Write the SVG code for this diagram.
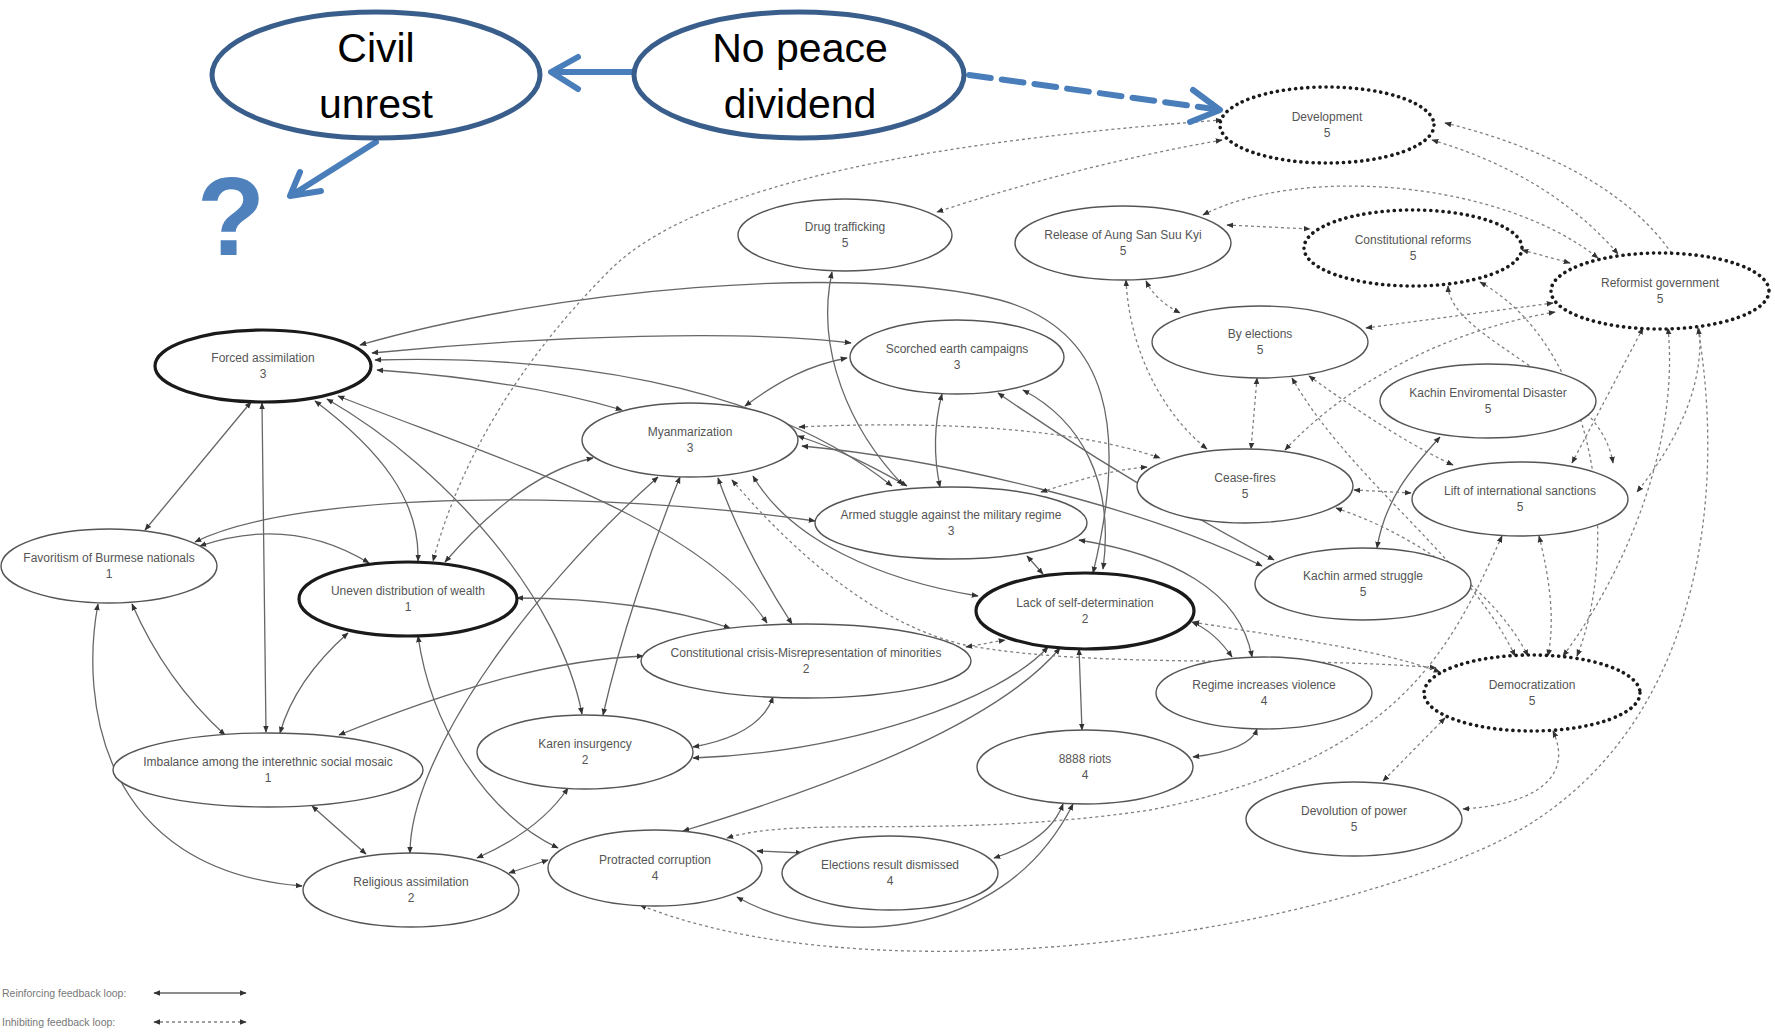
<svg xmlns="http://www.w3.org/2000/svg" width="1775" height="1034" viewBox="0 0 1775 1034">
<defs>
<marker id="ah" viewBox="0 0 10 10" refX="9" refY="5" markerWidth="7" markerHeight="7" markerUnits="userSpaceOnUse" orient="auto-start-reverse"><path d="M0,1 L10,5 L0,9 z" fill="#333"/></marker>
<style>
.e{fill:none;stroke:#666;stroke-width:1.3;marker-start:url(#ah);marker-end:url(#ah)}
.d{fill:none;stroke:#808080;stroke-width:1.3;stroke-dasharray:3 3;marker-start:url(#ah);marker-end:url(#ah)}
.n ellipse{fill:#fff;stroke:#555;stroke-width:1.4}
.t ellipse{fill:#fff;stroke:#1a1a1a;stroke-width:3.2}
.p ellipse{fill:#fff;stroke:#1a1a1a;stroke-width:3.6;stroke-dasharray:0.1 6;stroke-linecap:round}
text.l{font-family:"Liberation Sans",Arial,sans-serif;font-size:12px;fill:#555;text-anchor:middle}
.b ellipse{fill:#fff;stroke:#3a5e8c;stroke-width:5}
text.big{font-family:"Liberation Sans",Arial,sans-serif;font-size:41px;fill:#000;text-anchor:middle}
.bl{fill:none;stroke:#4a7ebb;stroke-width:6;stroke-linecap:round;stroke-linejoin:round}
text.lg{font-family:"Liberation Sans",Arial,sans-serif;font-size:10.5px;fill:#777}
</style>
</defs>
<rect width="1775" height="1034" fill="#fff"/>
<g id="connectors">
<path class="e" d="M251,402 L145,530"/>
<path class="e" d="M262,403 L266,732"/>
<path class="e" d="M315,401 C380,450 420,500 418,561"/>
<path class="e" d="M327,399 C450,470 560,600 582,714"/>
<path class="e" d="M338,396 C500,460 700,520 767,623"/>
<path class="e" d="M377,370 Q520,380 622,410"/>
<path class="e" d="M375,360 C550,355 760,380 892,486"/>
<path class="e" d="M372,353 C550,335 750,330 851,343"/>
<path class="e" d="M360,345 C550,290 850,262 1000,300 C1110,330 1128,430 1093,573"/>
<path class="e" d="M195,542 C300,490 600,490 815,521"/>
<path class="e" d="M200,546 Q290,515 369,563"/>
<path class="e" d="M98,604 C80,700 100,870 302,886"/>
<path class="e" d="M132,604 Q165,680 225,735"/>
<path class="e" d="M348,633 Q295,680 280,733"/>
<path class="e" d="M418,636 C430,720 480,810 558,848"/>
<path class="e" d="M517,598 Q640,598 730,628"/>
<path class="e" d="M445,562 C490,510 540,470 593,458"/>
<path class="e" d="M339,735 C450,690 550,660 643,656"/>
<path class="e" d="M312,806 L366,854"/>
<path class="e" d="M410,853 C410,760 520,600 658,477"/>
<path class="e" d="M477,858 Q540,830 568,788"/>
<path class="e" d="M509,873 Q530,866 548,860"/>
<path class="e" d="M603,715 C620,640 650,550 680,477"/>
<path class="e" d="M693,747 Q760,735 773,697"/>
<path class="e" d="M693,758 C850,752 1000,700 1048,647"/>
<path class="e" d="M683,831 C850,780 1000,720 1060,648"/>
<path class="e" d="M757,851 L802,853"/>
<path class="e" d="M737,897 C820,945 1000,950 1073,804"/>
<path class="e" d="M994,858 Q1050,840 1063,804"/>
<path class="e" d="M1082,730 L1079,649"/>
<path class="e" d="M1193,757 Q1250,750 1257,729"/>
<path class="e" d="M1192,622 Q1215,632 1232,657"/>
<path class="e" d="M1079,540 C1170,555 1240,590 1252,657"/>
<path class="e" d="M745,406 C780,380 810,365 847,358"/>
<path class="e" d="M718,478 C740,540 770,590 792,624"/>
<path class="e" d="M753,476 C790,540 880,580 978,596"/>
<path class="e" d="M802,446 C950,460 1150,510 1262,566"/>
<path class="e" d="M798,436 C840,450 870,465 907,486"/>
<path class="e" d="M942,394 Q930,440 940,487"/>
<path class="e" d="M1023,390 C1080,420 1115,480 1103,569"/>
<path class="e" d="M998,393 C1080,450 1180,510 1274,560"/>
<path class="e" d="M832,272 C815,350 850,430 903,485"/>
<path class="e" d="M1027,556 L1043,574"/>
<path class="e" d="M1440,437 C1410,470 1385,500 1377,548"/>
<path class="d" d="M1222,120 C950,140 700,180 610,270 C520,360 460,460 433,561"/>
<path class="d" d="M1222,140 Q1080,165 937,212"/>
<path class="d" d="M1445,123 C1640,170 1790,300 1637,492"/>
<path class="d" d="M1432,140 Q1550,175 1618,254"/>
<path class="d" d="M1203,215 C1300,165 1500,180 1598,258"/>
<path class="d" d="M1227,225 L1310,229"/>
<path class="d" d="M1146,281 Q1155,300 1180,313"/>
<path class="d" d="M1126,280 C1130,360 1170,420 1207,449"/>
<path class="d" d="M1522,250 L1570,263"/>
<path class="d" d="M1366,328 L1553,303"/>
<path class="d" d="M1285,450 C1350,380 1450,330 1555,312"/>
<path class="d" d="M1257,378 L1251,449"/>
<path class="d" d="M1292,378 C1350,480 1470,560 1515,656"/>
<path class="d" d="M1309,376 C1370,420 1420,450 1453,465"/>
<path class="d" d="M1354,490 L1411,493"/>
<path class="d" d="M1336,508 C1430,540 1500,600 1528,656"/>
<path class="d" d="M1448,286 C1450,340 1600,380 1613,463"/>
<path class="d" d="M1480,282 C1600,350 1620,550 1577,656"/>
<path class="d" d="M1643,328 L1572,463"/>
<path class="d" d="M1668,328 C1680,450 1620,580 1563,656"/>
<path class="d" d="M1698,328 C1730,520 1690,760 1480,850 C1250,950 850,990 640,905"/>
<path class="d" d="M1539,536 C1550,580 1555,620 1548,656"/>
<path class="d" d="M1502,536 C1450,650 1400,760 1150,810 C950,840 800,815 727,838"/>
<path class="d" d="M1553,731 C1575,780 1530,805 1463,809"/>
<path class="d" d="M1445,718 L1383,781"/>
<path class="d" d="M732,480 C800,560 880,625 965,645 C1100,670 1300,655 1436,668"/>
<path class="d" d="M1193,622 C1300,640 1380,650 1440,672"/>
<path class="d" d="M966,647 L1005,640"/>
<path class="d" d="M799,427 C950,420 1080,430 1160,458"/>
<path class="d" d="M1041,492 C1080,480 1110,470 1147,467"/>
</g>
<g id="development" class="p"><ellipse cx="1327" cy="125" rx="107" ry="38"/><text class="l" x="1327" y="121">Development</text><text class="l" x="1327" y="137">5</text></g>
<g id="drug-trafficking" class="n"><ellipse cx="845" cy="235" rx="107" ry="36"/><text class="l" x="845" y="231">Drug trafficking</text><text class="l" x="845" y="247">5</text></g>
<g id="release-aung-san-suu-kyi" class="n"><ellipse cx="1123" cy="243" rx="108" ry="37"/><text class="l" x="1123" y="239">Release of Aung San Suu Kyi</text><text class="l" x="1123" y="255">5</text></g>
<g id="constitutional-reforms" class="p"><ellipse cx="1413" cy="248" rx="109" ry="38"/><text class="l" x="1413" y="244">Constitutional reforms</text><text class="l" x="1413" y="260">5</text></g>
<g id="reformist-government" class="p"><ellipse cx="1660" cy="291" rx="109" ry="38"/><text class="l" x="1660" y="287">Reformist government</text><text class="l" x="1660" y="303">5</text></g>
<g id="by-elections" class="n"><ellipse cx="1260" cy="342" rx="108" ry="36"/><text class="l" x="1260" y="338">By elections</text><text class="l" x="1260" y="354">5</text></g>
<g id="forced-assimilation" class="t"><ellipse cx="263" cy="366" rx="108" ry="36"/><text class="l" x="263" y="362">Forced assimilation</text><text class="l" x="263" y="378">3</text></g>
<g id="scorched-earth" class="n"><ellipse cx="957" cy="357" rx="107" ry="37"/><text class="l" x="957" y="353">Scorched earth campaigns</text><text class="l" x="957" y="369">3</text></g>
<g id="kachin-env" class="n"><ellipse cx="1488" cy="401" rx="108" ry="37"/><text class="l" x="1488" y="397">Kachin Enviromental Disaster</text><text class="l" x="1488" y="413">5</text></g>
<g id="myanmarization" class="n"><ellipse cx="690" cy="440" rx="108" ry="37"/><text class="l" x="690" y="436">Myanmarization</text><text class="l" x="690" y="452">3</text></g>
<g id="cease-fires" class="n"><ellipse cx="1245" cy="486" rx="108" ry="37"/><text class="l" x="1245" y="482">Cease-fires</text><text class="l" x="1245" y="498">5</text></g>
<g id="lift-sanctions" class="n"><ellipse cx="1520" cy="499" rx="108" ry="37"/><text class="l" x="1520" y="495">Lift of international sanctions</text><text class="l" x="1520" y="511">5</text></g>
<g id="armed-struggle" class="n"><ellipse cx="951" cy="523" rx="136" ry="36"/><text class="l" x="951" y="519">Armed stuggle against the military regime</text><text class="l" x="951" y="535">3</text></g>
<g id="favoritism" class="n"><ellipse cx="109" cy="566" rx="108" ry="37"/><text class="l" x="109" y="562">Favoritism of Burmese nationals</text><text class="l" x="109" y="578">1</text></g>
<g id="uneven-wealth" class="t"><ellipse cx="408" cy="599" rx="109" ry="37"/><text class="l" x="408" y="595">Uneven distribution of wealth</text><text class="l" x="408" y="611">1</text></g>
<g id="kachin-armed" class="n"><ellipse cx="1363" cy="584" rx="108" ry="36"/><text class="l" x="1363" y="580">Kachin armed struggle</text><text class="l" x="1363" y="596">5</text></g>
<g id="lack-self-determination" class="t"><ellipse cx="1085" cy="611" rx="109" ry="38"/><text class="l" x="1085" y="607">Lack of self-determination</text><text class="l" x="1085" y="623">2</text></g>
<g id="constitutional-crisis" class="n"><ellipse cx="806" cy="661" rx="165" ry="37"/><text class="l" x="806" y="657">Constitutional crisis-Misrepresentation of minorities</text><text class="l" x="806" y="673">2</text></g>
<g id="regime-violence" class="n"><ellipse cx="1264" cy="693" rx="108" ry="36"/><text class="l" x="1264" y="689">Regime increases violence</text><text class="l" x="1264" y="705">4</text></g>
<g id="democratization" class="p"><ellipse cx="1532" cy="693" rx="108" ry="38"/><text class="l" x="1532" y="689">Democratization</text><text class="l" x="1532" y="705">5</text></g>
<g id="karen-insurgency" class="n"><ellipse cx="585" cy="752" rx="108" ry="37"/><text class="l" x="585" y="748">Karen insurgency</text><text class="l" x="585" y="764">2</text></g>
<g id="imbalance" class="n"><ellipse cx="268" cy="770" rx="155" ry="37"/><text class="l" x="268" y="766">Imbalance among the interethnic social mosaic</text><text class="l" x="268" y="782">1</text></g>
<g id="riots-8888" class="n"><ellipse cx="1085" cy="767" rx="108" ry="37"/><text class="l" x="1085" y="763">8888 riots</text><text class="l" x="1085" y="779">4</text></g>
<g id="devolution" class="n"><ellipse cx="1354" cy="819" rx="108" ry="37"/><text class="l" x="1354" y="815">Devolution of power</text><text class="l" x="1354" y="831">5</text></g>
<g id="religious-assimilation" class="n"><ellipse cx="411" cy="890" rx="108" ry="37"/><text class="l" x="411" y="886">Religious assimilation</text><text class="l" x="411" y="902">2</text></g>
<g id="protracted-corruption" class="n"><ellipse cx="655" cy="868" rx="107" ry="38"/><text class="l" x="655" y="864">Protracted corruption</text><text class="l" x="655" y="880">4</text></g>
<g id="elections-dismissed" class="n"><ellipse cx="890" cy="873" rx="108" ry="37"/><text class="l" x="890" y="869">Elections result dismissed</text><text class="l" x="890" y="885">4</text></g>
<g id="legend">
<text class="lg" x="2" y="997">Reinforcing feedback loop:</text>
<path class="e" d="M154,993 L246,993"/>
<text class="lg" x="2" y="1026">Inhibiting feedback loop:</text>
<path class="d" d="M154,1022 L246,1022"/>
</g>
<g id="overlay-connectors">
<path class="bl" d="M631,72 L552,72 M578,57 L551,72 L578,89"/>
<path class="bl" d="M376,142 L292,195 M300,172 L290,196 L321,191"/>
<path class="bl" d="M969,75 L1214,109" stroke-dasharray="22 11" stroke-linecap="butt"/>
<path class="bl" d="M1193,90 L1220,110 L1190,122"/>
</g>
<g id="civil-unrest" class="b"><ellipse cx="376" cy="75" rx="164" ry="63"/><text class="big" x="376" y="62">Civil</text><text class="big" x="376" y="118">unrest</text></g>
<g id="no-peace-dividend" class="b"><ellipse cx="799" cy="75" rx="165" ry="63"/><text class="big" x="800" y="62">No peace</text><text class="big" x="800" y="118">dividend</text></g>
<g id="question"><text x="231" y="255" font-family="Liberation Sans, Arial, sans-serif" font-size="112" font-weight="bold" fill="#4f81bd" text-anchor="middle">?</text></g>
</svg>
